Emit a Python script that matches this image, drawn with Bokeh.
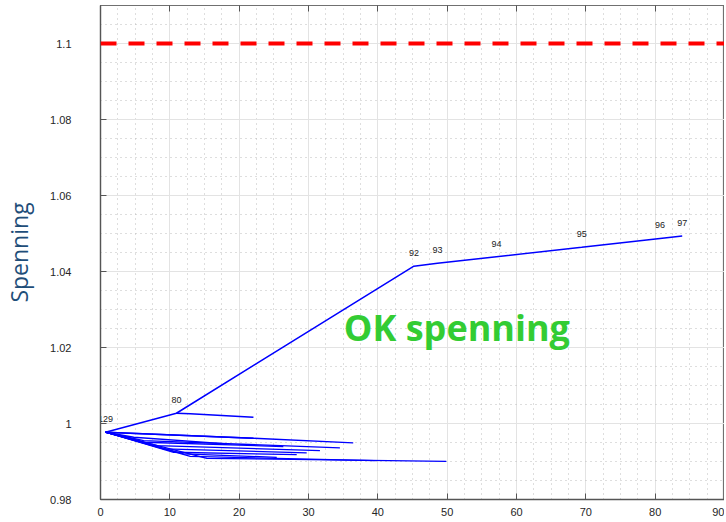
from bokeh.plotting import figure
from bokeh.models import (Span, SingleIntervalTicker, LinearAxis, CustomJSTickFormatter,
                          Range1d, ColumnDataSource)
from bokeh.core.properties import value
from bokeh.embed import file_html
from bokeh.resources import INLINE

# ---- data ----
limit_voltage = 1.1

node_names = ["129", "80", "92", "93", "94", "95", "96", "97"]
node_x = [0.72, 10.95, 45.2, 48.6, 57.1, 69.4, 80.7, 83.9]
node_y = [0.9977, 1.0027, 1.0414, 1.04214, 1.04389, 1.04637, 1.04869, 1.04935]

branch_x = [10.95, 12.95, 22.06]
branch_y = [1.0027, 1.00256, 1.00166]

cluster_xs = [
    [0.72, 22.06],
    [0.72, 22.06, 36.45],
    [0.72, 4.80, 18.23],
    [0.72, 6.23, 34.53],
    [0.72, 6.23, 26.37],
    [0.72, 8.15, 31.65],
    [0.72, 9.11, 29.74],
    [0.72, 10.55, 28.30],
    [0.72, 11.99, 25.42],
    [0.72, 12.95, 39.57],
    [0.72, 15.35, 49.88],
]
cluster_ys = [
    [0.9977, 0.99612],
    [0.9977, 0.99612, 0.99491],
    [0.9977, 0.99638, 0.99464],
    [0.9977, 0.99551, 0.99359],
    [0.9977, 0.99507, 0.99393],
    [0.9977, 0.99419, 0.99287],
    [0.9977, 0.99332, 0.99227],
    [0.9977, 0.99243, 0.99182],
    [0.9977, 0.99200, 0.99111],
    [0.9977, 0.99137, 0.99024],
    [0.9977, 0.99084, 0.99005],
]

ok_text = "OK spenning"
ok_x = 51.4
ok_y = 1.0253
y_axis_label = "Spenning"

# ---- figure ----
p = figure(width=724, height=518, output_backend="svg", toolbar_location=None,
           x_range=Range1d(0, 90), y_range=Range1d(0.98, 1.11),
           min_border_left=95, min_border_right=0, min_border_top=5, min_border_bottom=0)
p.background_fill_color = "white"
p.border_fill_color = "white"
p.outline_line_color = "#707070"
p.outline_line_width = 1.2

xt = SingleIntervalTicker(interval=10, num_minor_ticks=4)
yt = SingleIntervalTicker(interval=0.02, num_minor_ticks=4)
p.xaxis.ticker = xt
p.yaxis.ticker = yt
p.yaxis.formatter = CustomJSTickFormatter(code="return String(+tick.toFixed(4));")

for ax in (p.xaxis[0], p.yaxis[0]):
    ax.major_tick_in = 6
    ax.major_tick_out = 0
    ax.minor_tick_line_color = None
    ax.axis_line_color = "#555555"
    ax.axis_line_width = 1.3
    ax.major_tick_line_color = "#555555"
    ax.major_label_text_font = "Liberation Sans"
    ax.major_label_text_font_size = "11px"
    ax.major_label_text_color = "#262626"

p.xaxis.major_label_standoff = 4
p.yaxis.major_label_standoff = 25
p.yaxis.axis_label = y_axis_label
p.yaxis.axis_label_text_font = "Open Sans"
p.yaxis.axis_label_text_font_style = "normal"
p.yaxis.axis_label_text_font_size = "23px"
p.yaxis.axis_label_text_color = "#1F4E79"
p.yaxis.axis_label_standoff = 12

top = LinearAxis(ticker=SingleIntervalTicker(interval=10, num_minor_ticks=4),
                 formatter=CustomJSTickFormatter(code="return '';"))
top.major_tick_in = 6
top.major_tick_out = 0
top.minor_tick_line_color = None
top.major_label_standoff = 0
top.axis_line_color = "#707070"
top.major_tick_line_color = "#555555"
p.add_layout(top, "above")

p.xgrid.grid_line_color = "#e3e3e3"
p.ygrid.grid_line_color = "#e3e3e3"
p.xgrid.minor_grid_line_color = "#bdbdbd"
p.ygrid.minor_grid_line_color = "#bdbdbd"
p.xgrid.minor_grid_line_dash = "1 4"
p.ygrid.minor_grid_line_dash = "1 4"

p.add_layout(Span(location=limit_voltage, dimension="width", line_color="#ff0000",
                  line_width=4, line_dash="16 12"))

p.multi_line(xs=cluster_xs, ys=cluster_ys, line_color="#0000ff", line_width=1.3)
p.line(branch_x, branch_y, line_color="#0000ff", line_width=1.5)
p.line(node_x, node_y, line_color="#0000ff", line_width=1.5)

src = ColumnDataSource(dict(x=node_x, y=node_y, t=node_names))
p.text(x="x", y="y", text="t", source=src, text_font=value("Liberation Sans"),
       text_font_size="9px", text_color="#222222", text_align="center",
       text_baseline="middle", y_offset=-13)

p.text(x=[ok_x], y=[ok_y], text=[ok_text], text_font=value("Open Sans"),
       text_font_style="bold", text_font_size="36px", text_color="#33cc33",
       text_align="center", text_baseline="middle")

open("out.html", "w").write(file_html(p, INLINE))
